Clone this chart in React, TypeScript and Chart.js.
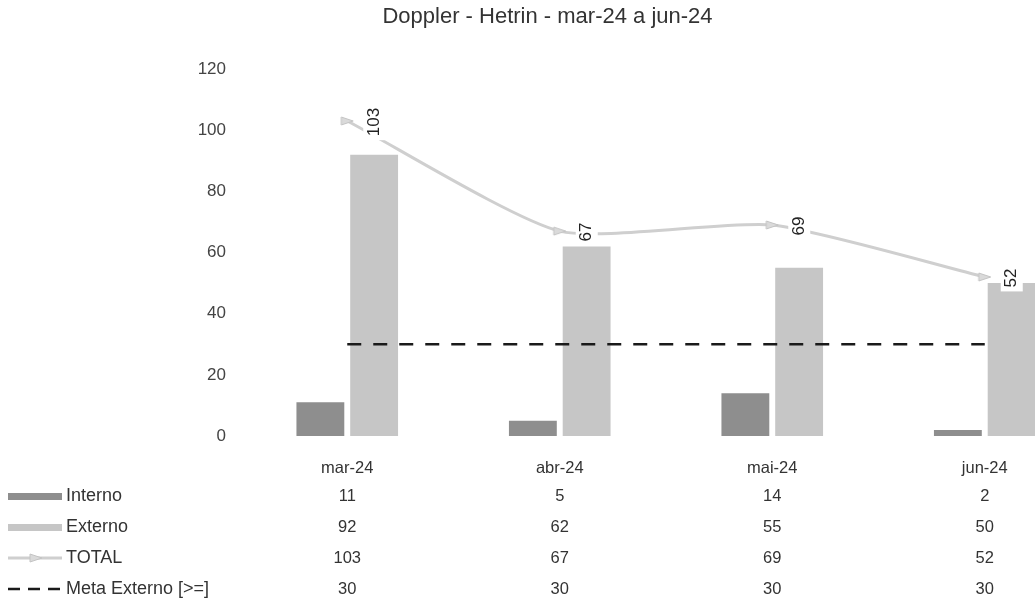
import React, { useEffect, useRef } from 'react';
import { Chart, registerables } from 'chart.js';

Chart.register(...registerables);

const categories = ['mar-24', 'abr-24', 'mai-24', 'jun-24'];
const interno = [11, 5, 14, 2];
const externo = [92, 62, 55, 50];
const total = [103, 67, 69, 52];
const metaExterno = [30, 30, 30, 30];
const seriesNames = ['Interno', 'Externo', 'TOTAL', 'Meta Externo [>=]'];
const yMin = 0;
const yMax = 120;
const yStep = 20;

const FONT = '"Liberation Sans", Arial, Helvetica, sans-serif';
const TEXT = '#333333';
const C_INTERNO = '#8e8e8e';
const C_EXTERNO = '#c6c6c6';
const C_TOTAL = '#cfcfcf';
const C_META = '#1a1a1a';

const CANVAS_W = 1100;
const CANVAS_H = 603;

const totalLabelPlugin = {
  id: 'totalLabels',
  afterDatasetsDraw(chart: any) {
    const meta = chart.getDatasetMeta(2);
    const ctx = chart.ctx;
    ctx.save();
    ctx.font = `17px ${FONT}`;
    ctx.textAlign = 'center';
    ctx.textBaseline = 'middle';
    meta.data.forEach((pt: any, i: number) => {
      const txt = String(total[i]);
      const w = ctx.measureText(txt).width;
      ctx.save();
      ctx.translate(pt.x + 27, pt.y + 1);
      ctx.rotate(-Math.PI / 2);
      ctx.fillStyle = '#ffffff';
      ctx.fillRect(-w / 2 - 4, -11, w + 8, 22);
      ctx.fillStyle = '#222';
      ctx.fillText(txt, 0, 0);
      ctx.restore();
    });
    ctx.restore();
  },
};

function drawArrow(ctx: CanvasRenderingContext2D, x: number, y: number) {
  ctx.save();
  ctx.fillStyle = '#dadada';
  ctx.strokeStyle = '#c4c4c4';
  ctx.lineWidth = 1;
  ctx.beginPath();
  ctx.moveTo(x - 6, y - 4);
  ctx.lineTo(x + 6, y);
  ctx.lineTo(x - 6, y + 4);
  ctx.closePath();
  ctx.fill();
  ctx.stroke();
  ctx.restore();
}

const tablePlugin = {
  id: 'dataTable',
  afterDraw(chart: any) {
    const ctx = chart.ctx as CanvasRenderingContext2D;
    const xs = chart.scales.x;
    const base = chart.chartArea.bottom;
    const headerY = base + 32;
    const rowYs = [base + 60, base + 91, base + 122, base + 153];
    const rows = [interno, externo, total, metaExterno];
    ctx.save();
    ctx.font = `16.5px ${FONT}`;
    ctx.fillStyle = TEXT;
    ctx.textBaseline = 'middle';
    ctx.textAlign = 'center';
    categories.forEach((c, i) => {
      const px = xs.getPixelForValue(i);
      ctx.fillText(c, px, headerY);
      rows.forEach((r, j) => ctx.fillText(String(r[i]), px, rowYs[j]));
    });
    // legend keys + row labels
    ctx.textAlign = 'left';
    ctx.font = `18px ${FONT}`;
    seriesNames.forEach((n, j) => ctx.fillText(n, 66, rowYs[j]));
    ctx.fillStyle = C_INTERNO;
    ctx.fillRect(8, rowYs[0] - 3, 54, 7);
    ctx.fillStyle = C_EXTERNO;
    ctx.fillRect(8, rowYs[1] - 3, 54, 7);
    ctx.strokeStyle = C_TOTAL;
    ctx.lineWidth = 3;
    ctx.beginPath();
    ctx.moveTo(8, rowYs[2]);
    ctx.lineTo(62, rowYs[2]);
    ctx.stroke();
    drawArrow(ctx, 36, rowYs[2]);
    ctx.strokeStyle = C_META;
    ctx.lineWidth = 2.5;
    ctx.setLineDash([12, 8]);
    ctx.beginPath();
    ctx.moveTo(8, rowYs[3]);
    ctx.lineTo(62, rowYs[3]);
    ctx.stroke();
    ctx.restore();
  },
};

function makeArrowCanvas(): HTMLCanvasElement {
  const c = document.createElement('canvas');
  c.width = 16;
  c.height = 12;
  const ctx = c.getContext('2d') as CanvasRenderingContext2D;
  drawArrow(ctx, 8, 6);
  return c;
}

export default function App() {
  const ref = useRef<HTMLCanvasElement | null>(null);

  useEffect(() => {
    document.body.style.margin = '0';
    const canvas = ref.current;
    if (!canvas) return;
    const arrow = makeArrowCanvas();
    const chart = new Chart(canvas, {
      type: 'bar',
      data: {
        labels: categories,
        datasets: [
          {
            type: 'bar',
            label: seriesNames[0],
            data: interno,
            backgroundColor: C_INTERNO,
            order: 2,
            barPercentage: 0.89,
            categoryPercentage: 0.506,
          },
          {
            type: 'bar',
            label: seriesNames[1],
            data: externo,
            backgroundColor: C_EXTERNO,
            order: 2,
            barPercentage: 0.89,
            categoryPercentage: 0.506,
          },
          {
            type: 'line',
            label: seriesNames[2],
            data: total,
            borderColor: C_TOTAL,
            borderWidth: 3,
            tension: 0.2,
            pointStyle: arrow as any,
            pointRadius: 6,
            order: 1,
          } as any,
          {
            type: 'line',
            label: seriesNames[3],
            data: metaExterno,
            borderColor: C_META,
            borderWidth: 2.5,
            borderDash: [14, 12],
            pointRadius: 0,
            order: 0,
          } as any,
        ],
      },
      options: {
        responsive: false,
        animation: false,
        devicePixelRatio: 1,
        layout: { padding: { top: 0, left: 0, right: 5, bottom: 167 } },
        plugins: {
          legend: { display: false },
          tooltip: { enabled: false },
          title: {
            display: true,
            text: 'Doppler - Hetrin - mar-24 a jun-24',
            color: TEXT,
            font: { family: FONT, size: 22, weight: 'normal', lineHeight: 1.2 },
            padding: { top: 4, bottom: 38.6 },
          },
        },
        scales: {
          x: {
            display: false,
            grid: { display: false },
          },
          y: {
            min: yMin,
            max: yMax,
            grid: { display: false, drawTicks: false },
            border: { display: false },
            ticks: {
              stepSize: yStep,
              padding: 15,
              color: '#444',
              font: { family: FONT, size: 17 },
            },
            afterFit(scale: any) {
              scale.width = 241;
            },
          },
        },
      },
      plugins: [totalLabelPlugin, tablePlugin],
    });
    return () => chart.destroy();
  }, []);

  return (
    <div style={{ width: 1035, height: CANVAS_H, overflow: 'hidden', background: '#fff' }}>
      <canvas ref={ref} width={CANVAS_W} height={CANVAS_H} style={{ display: 'block' }} />
    </div>
  );
}
